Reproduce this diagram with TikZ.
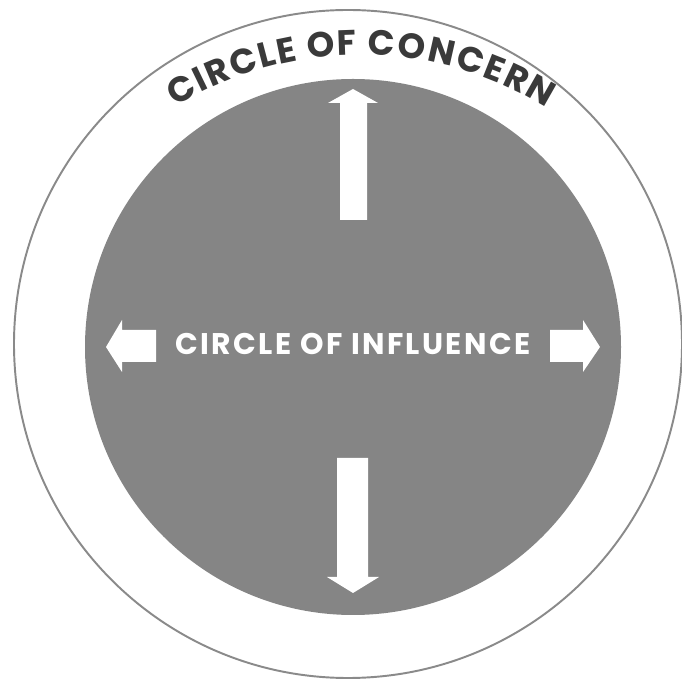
\documentclass[tikz,border=0pt]{standalone}
\usepackage{fontspec}
\setmainfont{Poppins}
\usepackage{tikz}
\usetikzlibrary{decorations.text}

\definecolor{influencegray}{HTML}{858585}
\definecolor{concernline}{HTML}{8A8A8A}
\definecolor{concerntext}{HTML}{3A3A3A}

\begin{document}
\begin{tikzpicture}[
        x=0.02cm, y=0.02cm,
        concern/.style={draw=concernline, line width=1.1pt, fill=white},
        influence/.style={fill=influencegray},
        bigarrow/.style={fill=white},
        label/.style={text=white, font=\bfseries\fontsize{17}{19}\selectfont\addfontfeature{LetterSpace=8}}
    ]
    \useasboundingbox (0,0) rectangle (682,683);

    % Circles
    \draw[concern] (348,339) circle (334);
    \fill[influence] (353,336) circle (268);

    % Curved title
    \path[decorate, decoration={text effects along path,
        text={CIRCLE OF CONCERN}, text effects/.cd, fit text to path,
        characters={text=concerntext, font=\bfseries\fontsize{20}{22}\selectfont},
        text along path}]
        (360,273) ++(121.3:355) arc (121.3:58.3:355);

    % Arrows
    \fill[bigarrow] (340,463) -- (340,580) -- (328,580) -- (353,594) -- (378,580) -- (367,580) -- (367,463) -- cycle;
    \fill[bigarrow] (337,225) -- (337,106) -- (327,106) -- (353,90) -- (379,106) -- (368,106) -- (368,225) -- cycle;
    \fill[bigarrow] (156,353) -- (122,353) -- (122,363) -- (106,336) -- (122,311) -- (122,321) -- (156,321) -- cycle;
    \fill[bigarrow] (550,353) -- (583,353) -- (583,363) -- (600,336) -- (583,311) -- (583,321) -- (550,321) -- cycle;

    % Label
    \node[label, anchor=base] (influencelabel) at (353,328) {CIRCLE OF INFLUENCE};

\end{tikzpicture}
\end{document}
